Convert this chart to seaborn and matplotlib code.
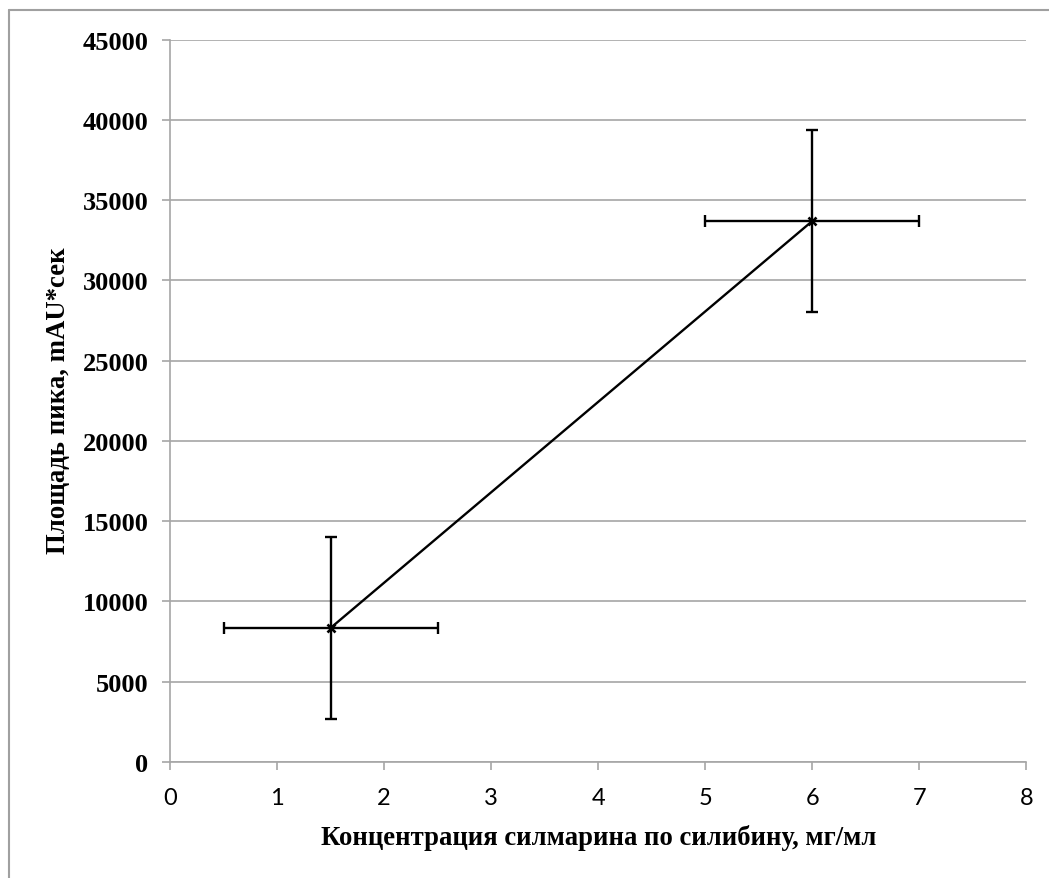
import matplotlib
matplotlib.use("Agg")
import matplotlib.pyplot as plt
from matplotlib.lines import Line2D
import seaborn as sns
import pandas as pd

# Calibration points: silymarin concentration (by silibinin) vs. peak area
concentration = [1.5, 6.0]
peak_area = [8350, 33700]
area_err = [5670, 5670]
conc_err = [1.0, 1.0]

x_ticks = [0, 1, 2, 3, 4, 5, 6, 7, 8]
y_ticks = [0, 5000, 10000, 15000, 20000, 25000, 30000, 35000, 40000, 45000]

x_title = "Концентрация силмарина по силибину, мг/мл"
y_title = "Площадь пика, mAU*сек"

df = pd.DataFrame({"conc": concentration, "area": peak_area})

sns.set_theme(style="white")
plt.rcParams["font.family"] = ["Liberation Serif", "DejaVu Serif"]
plt.rcParams["text.color"] = "black"
plt.rcParams["xtick.labelcolor"] = "black"
plt.rcParams["ytick.labelcolor"] = "black"

W, H = 1049, 879
fig = plt.figure(figsize=(W / 100, H / 100), dpi=100)
ax = fig.add_axes([170 / W, 1 - 763 / H, (1026.3 - 170) / W, (763 - 40.7) / H])

grid_col = "#a6a6a6"

ax.errorbar(concentration, peak_area, yerr=area_err, xerr=conc_err,
            fmt="none", ecolor="black", elinewidth=1.7, capsize=4.5,
            capthick=1.7, zorder=3)
sns.lineplot(data=df, x="conc", y="area", ax=ax, color="black",
             linewidth=1.7, marker="x", markersize=6, markeredgewidth=1.9,
             markeredgecolor="black", zorder=4)

ax.set_xlim(0, 8)
ax.set_ylim(0, 45000)
ax.set_xticks(x_ticks)
ax.set_yticks(y_ticks)
ax.set_xticklabels([str(v) for v in x_ticks], family="Lato", fontsize=17,
                   color="black")
ax.set_yticklabels([str(v) for v in y_ticks], family="Liberation Serif",
                   fontsize=19, fontweight="bold", color="black")

ax.yaxis.grid(True, color=grid_col, linewidth=1.2)
ax.xaxis.grid(False)
ax.set_axisbelow(True)

for side in ("top", "right"):
    ax.spines[side].set_visible(False)
for side in ("left", "bottom"):
    ax.spines[side].set_color(grid_col)
    ax.spines[side].set_linewidth(1.2)

ax.tick_params(axis="x", direction="out", length=6, width=1.2, color=grid_col,
               pad=12, bottom=True)
ax.tick_params(axis="y", direction="out", length=5.5, width=1.2, color=grid_col,
               pad=10, left=True)

ax.set_xlabel("")
ax.set_ylabel("")
fig.text(598.7 / W, 1 - 838 / H, x_title, ha="center", va="center",
         fontsize=19.2, fontweight="bold", family="Liberation Serif",
         color="black")
fig.text(59 / W, 1 - 401 / H, y_title, ha="center", va="center",
         rotation=90, fontsize=19.3, fontweight="bold", family="Liberation Serif",
         color="black")

# Chart frame (top and left edges visible)
fig.add_artist(Line2D([9 / W, 9 / W], [1 - 11 / H, 0], transform=fig.transFigure,
                      color="#a0a0a0", linewidth=1.5))
fig.add_artist(Line2D([9 / W, 1], [1 - 11 / H, 1 - 11 / H], transform=fig.transFigure,
                      color="#a0a0a0", linewidth=1.5))

fig.savefig("out.png", dpi=100, facecolor="white")
